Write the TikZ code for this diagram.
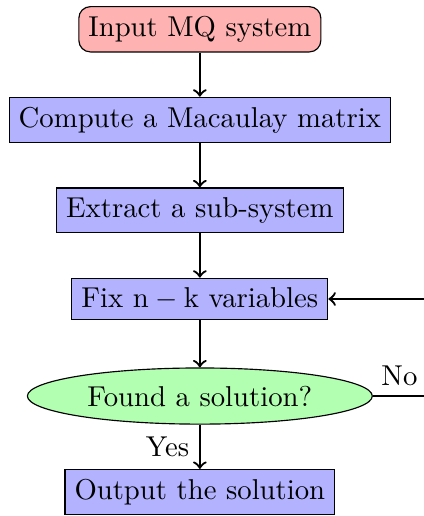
\documentclass[tikz,border=0pt]{standalone}
\usepackage{tikz}
\usetikzlibrary{arrows,positioning,shapes.geometric}

\begin{document}
\begin{tikzpicture}[->,thick,node distance=15.4pt,
    stepbox/.style={rectangle,fill=blue!30,draw,thin},
    startbox/.style={rectangle,rounded corners,fill=red!30,draw,thin},
    testbox/.style={ellipse,fill=green!30,draw,thin}]
    \useasboundingbox (-69.6pt,-169.5pt) rectangle (78pt,10.2pt);
    \node[startbox] (input) at (0,0) {Input MQ system};
    \node[stepbox] (macaulay) [below=of input] {Compute a Macaulay matrix};
    \node[stepbox] (extract) [below=of macaulay] {Extract a sub-system};
    \node[stepbox] (fix) [below=of extract] {Fix $\mathrm{n}-\mathrm{k}$ variables};
    \node[testbox] (found) [below=16.4pt of fix] {Found a solution?};
    \node[stepbox] (output) [below=of found] {Output the solution};
    \coordinate (back) at ([xshift=18.5pt]found.east);
    \path
        (input) edge (macaulay)
        (macaulay) edge (extract)
        (extract) edge (fix)
        (fix) edge (found)
        (found) edge node [left] {Yes} (output)
    ;
    \draw (found.east) -- node [above] {No} (back) |- (fix.east);
\end{tikzpicture}
\end{document}
